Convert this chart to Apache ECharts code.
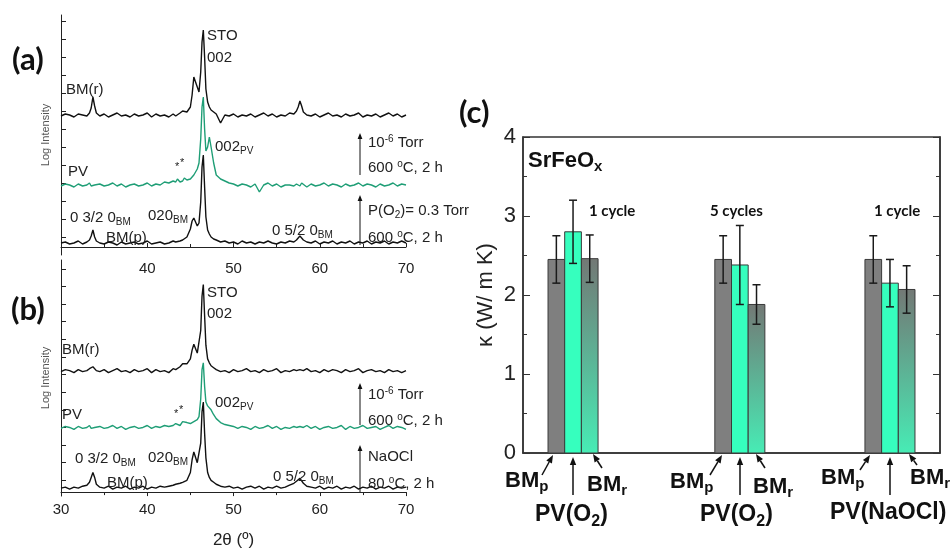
<!DOCTYPE html>
<html>
<head>
<meta charset="utf-8">
<script src="https://cdn.jsdelivr.net/npm/echarts@6/dist/echarts.min.js"></script>
<style>
  html, body { margin: 0; padding: 0; background: #fff; }
  #chart { width: 951px; height: 550px; }
</style>
</head>
<body>
<div id="chart"></div>
<script>
// 2theta sampling shared by all XRD traces (finer around the peaks)
const twoTheta = [
  30, 30.5, 31, 31.5, 32, 32.5, 33, 33.3, 33.5, 33.7,
  33.9, 34.1, 34.5, 35, 35.5, 36, 36.5, 37, 37.5, 38,
  38.5, 39, 39.5, 40, 40.5, 41, 41.5, 42, 42.5, 43,
  43.3, 43.5, 43.8, 44.1, 44.3, 44.6, 45, 45.2, 45.4, 45.6,
  45.8, 46, 46.2, 46.35, 46.5, 46.65, 46.8, 47, 47.2, 47.4,
  47.7, 48, 48.5, 49, 49.5, 50, 50.5, 51, 51.5, 52,
  52.5, 53, 53.5, 54, 54.5, 55, 55.5, 56, 56.5, 57,
  57.3, 57.5, 57.7, 57.9, 58.1, 58.5, 59, 59.5, 60, 60.5,
  61, 61.5, 62, 62.5, 63, 63.5, 64, 64.5, 65, 65.5,
  66, 66.5, 67, 67.5, 68, 68.5, 69, 69.5, 70
];

// panel (a): offset log intensity (arb. units)
const bmrA = [
  131, 133, 132, 130, 133, 132, 131, 134, 139, 150,
  141, 134, 131, 133, 130, 132, 134, 131, 132, 130,
  133, 131, 132, 134, 130, 133, 131, 132, 130, 133,
  131, 132, 134, 136, 137, 135, 140, 152, 170, 172,
  160, 155, 175, 205, 217, 190, 158, 145, 140, 137,
  135, 133, 124, 132, 131, 133, 130, 132, 131, 133,
  130, 132, 134, 131, 133, 130, 132, 131, 134, 133,
  136, 140, 146, 141, 135, 132, 131, 133, 130, 132,
  134, 131, 132, 130, 133, 131, 132, 134, 130, 132,
  131, 133, 130, 132, 134, 131, 133, 130, 132
];
const pvA = [
  61, 63, 62, 60, 63, 61, 62, 64, 61, 63,
  62, 60, 63, 61, 62, 64, 61, 63, 60, 62,
  63, 61, 62, 64, 61, 63, 62, 65, 64, 66,
  65, 68, 65, 66, 69, 67, 68, 70, 72, 74,
  78, 84, 108, 140, 150, 118, 96, 100, 110, 100,
  84, 72, 68, 66, 64, 63, 61, 63, 62, 60,
  63, 55, 62, 64, 61, 63, 60, 62, 62, 61,
  63, 62, 61, 64, 62, 60, 63, 61, 62, 64,
  61, 63, 62, 60, 63, 61, 62, 64, 61, 63,
  62, 60, 63, 61, 62, 64, 61, 63, 62
];
const bmpA = [
  4, 5, 3, 4, 6, 3, 5, 7, 11, 17,
  10, 6, 4, 3, 5, 4, 2, 5, 3, 4,
  5, 3, 4, 6, 3, 4, 5, 3, 4, 6,
  5, 4, 6, 7, 8, 10, 18, 26, 29, 27,
  21, 24, 45, 80, 92, 60, 30, 17, 13, 10,
  8, 7, 5, 6, 4, 5, 3, 6, 4, 5,
  3, 5, 4, 6, 4, 3, 5, 4, 6, 5,
  7, 9, 11, 9, 7, 5, 4, 6, 3, 5,
  4, 6, 3, 5, 4, 6, 3, 5, 4, 6,
  3, 5, 4, 6, 3, 5, 4, 6, 4
];

// panel (b)
const bmrB = [
  123, 125, 124, 122, 125, 123, 124, 126, 127, 128,
  126, 124, 123, 125, 122, 124, 126, 123, 124, 122,
  125, 123, 124, 126, 122, 125, 123, 124, 122, 126,
  125, 127, 128, 131, 133, 131, 136, 145, 151, 150,
  142, 141, 165, 200, 212, 180, 150, 136, 132, 129,
  127, 125, 123, 124, 122, 125, 123, 124, 126, 123,
  124, 122, 125, 123, 124, 126, 122, 124, 123, 125,
  124, 122, 125, 123, 124, 126, 123, 124, 122, 125,
  123, 125, 124, 122, 125, 123, 124, 126, 122, 124,
  125, 123, 124, 122, 125, 123, 124, 122, 124
];
const pvB = [
  65, 67, 66, 64, 67, 65, 66, 68, 65, 67,
  66, 64, 67, 65, 66, 68, 65, 67, 64, 66,
  67, 65, 66, 68, 65, 67, 66, 68, 67, 68,
  70, 69, 68, 72, 74, 71, 70, 71, 72, 73,
  74, 77, 95, 125, 132, 108, 92, 88, 87, 84,
  79, 75, 71, 69, 68, 67, 65, 67, 66, 64,
  67, 65, 66, 68, 65, 67, 64, 66, 65, 67,
  66, 64, 67, 65, 66, 68, 65, 67, 64, 66,
  67, 65, 66, 68, 64, 67, 65, 66, 68, 65,
  66, 67, 64, 66, 68, 65, 67, 66, 64
];
const bmpB = [
  4, 5, 3, 5, 4, 6, 7, 10, 15, 20,
  15, 8, 5, 4, 6, 3, 5, 4, 6, 3,
  5, 4, 6, 3, 5, 4, 6, 5, 6, 7,
  8, 7, 9, 10, 11, 12, 20, 33, 41, 40,
  30, 28, 50, 82, 92, 60, 35, 20, 15, 12,
  10, 8, 6, 5, 6, 4, 5, 3, 5, 6,
  4, 6, 3, 5, 4, 6, 4, 5, 7, 9,
  11, 13, 14, 12, 9, 6, 5, 4, 6, 3,
  5, 4, 6, 3, 5, 4, 6, 3, 5, 4,
  6, 3, 5, 4, 6, 3, 5, 4, 5
];

// left-axis tick positions of the XRD panels
const ticksA = [10, 28, 46, 64, 82, 100, 118, 136, 154, 172, 190, 208, 226];
const ticksB = [12, 30, 48, 66, 84, 102, 120, 138, 156, 174, 192, 210, 228];

// panel (c): thermal conductivity, bars at positions on a 0..25 axis
const bmpPos = [2, 12, 21];
const pvPos = [3, 13, 22];
const bmrPos = [4, 14, 23];
const bmpK = [2.45, 2.45, 2.45];
const bmpErr = [0.3, 0.3, 0.3];
const pvK = [2.80, 2.38, 2.15];
const pvErr = [0.4, 0.5, 0.3];
const bmrK = [2.46, 1.88, 2.07];
const bmrErr = [0.3, 0.25, 0.3];

const FONT = '"Liberation Sans", Arial, sans-serif';
const BOLD = 'Lato, "Open Sans", sans-serif';
const GREEN = '#1f9e76';

const zip = (ys) => twoTheta.map((x, i) => [x, ys[i]]);

function rich(size, family, weight, fill) {
  const s = Math.round(size * 0.68);
  return {
    sub: { fontSize: s, fontFamily: family, fontWeight: weight, fill, verticalAlign: 'bottom', padding: [Math.round(size * 0.55), 0, 0, 0] },
    sup: { fontSize: s, fontFamily: family, fontWeight: weight, fill, verticalAlign: 'top', padding: [0, 0, Math.round(size * 0.55), 0] }
  };
}

function txt(x, y, text, size, opts) {
  const o = Object.assign({ family: FONT, weight: 'normal', fill: '#222', align: 'left' }, opts || {});
  return {
    type: 'text', x, y, z: 10,
    style: {
      text, fill: o.fill, fontSize: size, fontFamily: o.family, fontWeight: o.weight,
      align: o.align, verticalAlign: 'middle', rich: rich(size, o.family, o.weight, o.fill)
    }
  };
}

function arrow(x1, y1, x2, y2, head, width) {
  const dx = x2 - x1, dy = y2 - y1, len = Math.sqrt(dx * dx + dy * dy);
  const ux = dx / len, uy = dy / len, bx = x2 - ux * head, by = y2 - uy * head;
  const hw = head * 0.4;
  return [
    { type: 'line', z: 10, shape: { x1, y1, x2: bx, y2: by }, style: { stroke: '#111', lineWidth: width } },
    { type: 'polygon', z: 10, shape: { points: [[x2, y2], [bx - uy * hw, by + ux * hw], [bx + uy * hw, by - ux * hw]] }, style: { fill: '#111' } }
  ];
}

function barSeries(name, pos, k, err, fill) {
  return {
    type: 'custom', name, xAxisIndex: 2, yAxisIndex: 2,
    data: pos.map((x, i) => [x, k[i], err[i]]),
    encode: { x: 0, y: 1 },
    renderItem: (params, api) => {
      const x = api.value(0), v = api.value(1), e = api.value(2);
      const tl = api.coord([x - 0.5, v]);
      const br = api.coord([x + 0.5, 0]);
      const top = api.coord([x, v + e]);
      const bot = api.coord([x, v - e]);
      const cap = 4;
      const ln = (x1, y1, x2, y2) => ({ type: 'line', shape: { x1, y1, x2, y2 }, style: { stroke: '#1a1a1a', lineWidth: 1.5 } });
      return {
        type: 'group',
        children: [
          { type: 'rect', shape: { x: tl[0], y: tl[1], width: br[0] - tl[0], height: br[1] - tl[1] }, style: { fill, stroke: '#3a3a3a', lineWidth: 1 } },
          ln(top[0], top[1], bot[0], bot[1]),
          ln(top[0] - cap, top[1], top[0] + cap, top[1]),
          ln(bot[0] - cap, bot[1], bot[0] + cap, bot[1])
        ]
      };
    }
  };
}

const gradBM = {
  type: 'linear', x: 0, y: 0, x2: 0, y2: 1,
  colorStops: [{ offset: 0, color: '#737875' }, { offset: 1, color: '#47ecb5' }]
};

const xrdX = (grid, tickInside, showMin, name) => ({
  type: 'value', gridIndex: grid, min: 30, max: 70, interval: 10,
  name, nameLocation: 'middle', nameGap: 36,
  nameTextStyle: { fontFamily: FONT, fontSize: 17, color: '#222' },
  axisLine: { lineStyle: { color: '#222', width: 1 } },
  axisTick: { inside: tickInside, length: 4, lineStyle: { color: '#222' } },
  minorTick: { show: true, splitNumber: 2, length: 3, lineStyle: { color: '#222' } },
  axisLabel: { fontFamily: FONT, fontSize: 15, color: '#222', margin: 6, showMinLabel: showMin },
  splitLine: { show: false }
});

const xrdY = (grid, min, max, ticks) => ({
  type: 'value', gridIndex: grid, min, max,
  name: 'Log Intensity', nameLocation: 'middle', nameGap: 10,
  nameTextStyle: { fontFamily: FONT, fontSize: 11, color: '#555' },
  axisLine: { show: true, lineStyle: { color: '#222', width: 1 } },
  axisTick: { show: true, inside: true, length: 5, customValues: ticks, lineStyle: { color: '#222' } },
  axisLabel: { show: false },
  splitLine: { show: false }
});

const kY = (pos, showLabel) => ({
  type: 'value', gridIndex: 2, position: pos, min: 0, max: 4, interval: 1,
  name: showLabel ? 'κ (W/ m K)' : '', nameLocation: 'middle', nameGap: 26,
  nameTextStyle: { fontFamily: FONT, fontSize: 22, color: '#222' },
  axisLine: { show: true, lineStyle: { color: '#333', width: 1.5 } },
  axisTick: { show: true, inside: true, length: 7, lineStyle: { color: '#333' } },
  minorTick: { show: true, splitNumber: 2, length: 4, lineStyle: { color: '#333' } },
  axisLabel: { show: showLabel, fontFamily: FONT, fontSize: 22, color: '#222', margin: 7 },
  splitLine: { show: false }
});

const graphics = [
  // panel labels
  txt(12, 60, '(a)', 31, { family: BOLD, weight: 'bold', fill: '#111' }),
  txt(11, 310, '(b)', 31, { family: BOLD, weight: 'bold', fill: '#111' }),
  txt(459, 113, '(c)', 31, { family: BOLD, weight: 'bold', fill: '#111' }),

  // panel (a)
  txt(207, 36, 'STO', 15), txt(207, 58, '002', 15),
  txt(66, 90, 'BM(r)', 15),
  txt(68, 172, 'PV', 15),
  txt(175, 167, '*', 11), txt(180, 163, '*', 11),
  txt(215, 147, '002{sub|PV}', 15),
  txt(368, 143, '10{sup|-6} Torr', 15),
  txt(368, 168, '600 {sup|o}C, 2 h', 15),
  txt(70, 218, '0 3/2 0{sub|BM}', 15),
  txt(148, 216, '020{sub|BM}', 15),
  txt(106, 238, 'BM(p)', 15),
  txt(272, 231, '0 5/2 0{sub|BM}', 15),
  txt(368, 211, 'P(O{sub|2})= 0.3 Torr', 15),
  txt(368, 238, '600 {sup|o}C, 2 h', 15),

  // panel (b)
  txt(207, 293, 'STO', 15), txt(207, 314, '002', 15),
  txt(62, 350, 'BM(r)', 15),
  txt(62, 415, 'PV', 15),
  txt(174, 414, '*', 11), txt(179, 410, '*', 11),
  txt(215, 403, '002{sub|PV}', 15),
  txt(368, 395, '10{sup|-6} Torr', 15),
  txt(368, 421, '600 {sup|o}C, 2 h', 15),
  txt(75, 459, '0 3/2 0{sub|BM}', 15),
  txt(148, 458, '020{sub|BM}', 15),
  txt(107, 483, 'BM(p)', 15),
  txt(273, 477, '0 5/2 0{sub|BM}', 15),
  txt(368, 457, 'NaOCl', 15),
  txt(368, 484, '80 {sup|o}C, 2 h', 15),

  // panel (c)
  txt(528, 161, 'SrFeO{sub|x}', 22, { weight: 'bold', fill: '#111' }),
  txt(589, 211, '1 cycle', 15, { family: BOLD, weight: 'bold', fill: '#111' }),
  txt(710, 211, '5 cycles', 15, { family: BOLD, weight: 'bold', fill: '#111' }),
  txt(874, 211, '1 cycle', 15, { family: BOLD, weight: 'bold', fill: '#111' }),

  txt(505, 481, 'BM{sub|p}', 22, { weight: 'bold', fill: '#111' }),
  txt(587, 485, 'BM{sub|r}', 22, { weight: 'bold', fill: '#111' }),
  txt(535, 515, 'PV(O{sub|2})', 23, { weight: 'bold', fill: '#111' }),
  txt(670, 482, 'BM{sub|p}', 22, { weight: 'bold', fill: '#111' }),
  txt(753, 487, 'BM{sub|r}', 22, { weight: 'bold', fill: '#111' }),
  txt(700, 515, 'PV(O{sub|2})', 23, { weight: 'bold', fill: '#111' }),
  txt(821, 478, 'BM{sub|p}', 22, { weight: 'bold', fill: '#111' }),
  txt(910, 478, 'BM{sub|r}', 22, { weight: 'bold', fill: '#111' }),
  txt(830, 513, 'PV(NaOCl)', 23, { weight: 'bold', fill: '#111' })
].concat(
  arrow(360, 175, 360, 133, 6, 1),
  arrow(360, 245, 360, 195, 6, 1),
  arrow(360, 425, 360, 383, 6, 1),
  arrow(360, 492, 360, 445, 6, 1),
  arrow(542, 475, 553, 455, 8, 1.5),
  arrow(573, 495, 573, 457, 8, 1.5),
  arrow(602, 468, 593, 454, 8, 1.5),
  arrow(710, 475, 722, 455, 8, 1.5),
  arrow(740, 495, 740, 457, 8, 1.5),
  arrow(765, 468, 756, 454, 8, 1.5),
  arrow(860, 470, 870, 455, 8, 1.5),
  arrow(890, 495, 890, 457, 8, 1.5),
  arrow(917, 465, 909, 454, 8, 1.5)
);

const line = (data, xi, color) => ({
  type: 'line', xAxisIndex: xi, yAxisIndex: xi, data: zip(data),
  showSymbol: false, animation: false,
  lineStyle: { color, width: 1.4 }, emphasis: { disabled: true }
});

const chart = echarts.init(document.getElementById('chart'));
chart.setOption({
  animation: false,
  backgroundColor: '#fff',
  grid: [
    { left: 61, top: 15, width: 345, height: 240 },
    { left: 61, top: 260, width: 345, height: 241 },
    { left: 523, top: 137, width: 417, height: 316, show: true, borderColor: '#333', borderWidth: 1.5 }
  ],
  xAxis: [
    xrdX(0, true, false, ''),
    xrdX(1, false, true, '2θ (º)'),
    {
      type: 'value', gridIndex: 2, min: 0, max: 25,
      axisLine: { show: true, lineStyle: { color: '#333', width: 1.5 } },
      axisTick: { show: false }, axisLabel: { show: false }, splitLine: { show: false }
    }
  ],
  yAxis: [
    xrdY(0, -8, 232, ticksA),
    xrdY(1, -4, 237, ticksB),
    kY('left', true),
    kY('right', false)
  ],
  series: [
    line(bmrA, 0, '#111'),
    line(pvA, 0, GREEN),
    line(bmpA, 0, '#111'),
    line(bmrB, 1, '#111'),
    line(pvB, 1, GREEN),
    line(bmpB, 1, '#111'),
    barSeries('BMp', bmpPos, bmpK, bmpErr, '#7f7f7f'),
    barSeries('PV', pvPos, pvK, pvErr, '#36ffbe'),
    barSeries('BMr', bmrPos, bmrK, bmrErr, gradBM)
  ],
  graphic: graphics
});
</script>
</body>
</html>
